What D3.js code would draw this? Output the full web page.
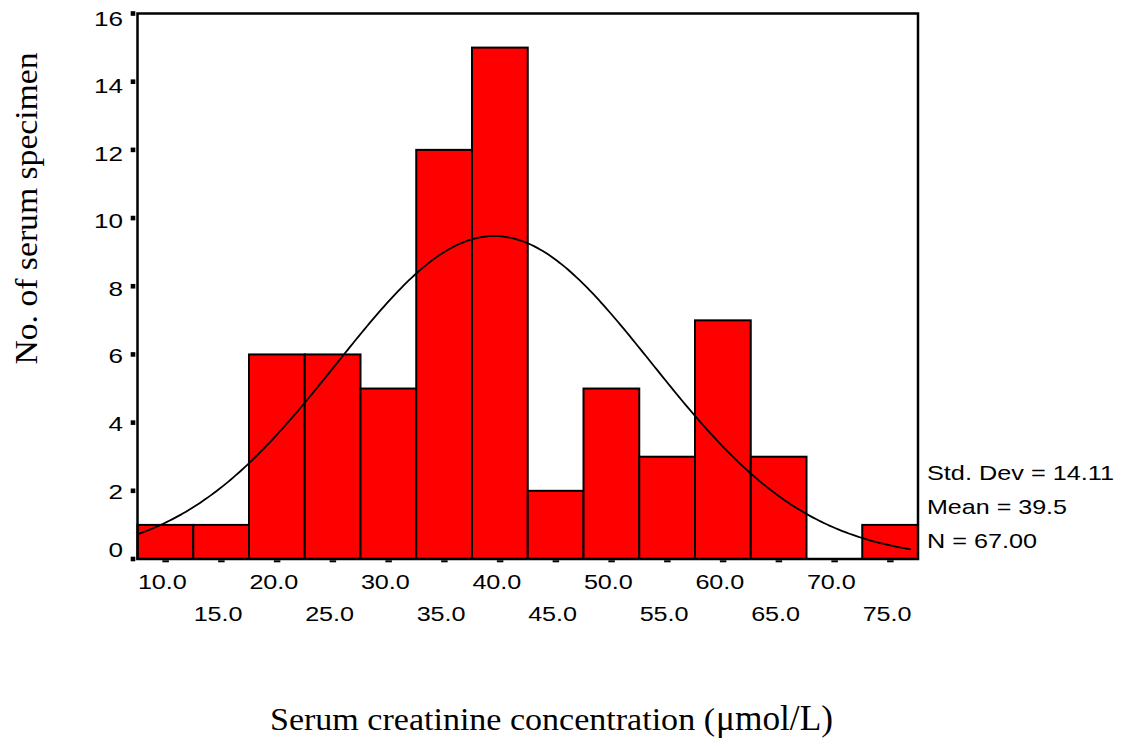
<!DOCTYPE html>
<html><head><meta charset="utf-8">
<script src="https://cdn.jsdelivr.net/npm/d3@7"></script>
<style>html,body{margin:0;padding:0;background:#fff;}svg{display:block;}</style>
</head><body>
<script>
// ---- data ----
const binCenters = [10, 15, 20, 25, 30, 35, 40, 45, 50, 55, 60, 65, 70, 75];
const counts     = [1, 1, 6, 6, 5, 12, 15, 2, 5, 3, 7, 3, 0, 1];
const xTickLabels = ["10.0","15.0","20.0","25.0","30.0","35.0","40.0","45.0","50.0","55.0","60.0","65.0","70.0","75.0"];
const yTicks = [0, 2, 4, 6, 8, 10, 12, 14, 16];
const statsLabels = ["Std. Dev = 14.11", "Mean = 39.5", "N = 67.00"];
const stdDev = 14.11, mean = 39.5, nObs = 67, binWidth = 5;
const curveRange = [7.6, 77.0];

const W = 1122, H = 746;
const svg = d3.select("body").append("svg").attr("width", W).attr("height", H);

const x = d3.scaleLinear().domain([7.5, 77.5]).range([137.5, 918]);
const y = d3.scaleLinear().domain([0, 16]).range([559, 13.5]);

// bars
svg.append("g").selectAll("rect")
  .data(binCenters.map((c, i) => ({c, v: counts[i]})).filter(d => d.v > 0))
  .join("rect")
  .attr("x", d => x(d.c - binWidth / 2))
  .attr("width", d => x(d.c + binWidth / 2) - x(d.c - binWidth / 2))
  .attr("y", d => y(d.v))
  .attr("height", d => y(0) - y(d.v))
  .attr("fill", "#ff0000")
  .attr("stroke", "#000")
  .attr("stroke-width", 2);

// normal curve
const pdf = v => nObs * binWidth / (stdDev * Math.sqrt(2 * Math.PI)) * Math.exp(-0.5 * Math.pow((v - mean) / stdDev, 2));
const pts = d3.range(curveRange[0], curveRange[1] + 0.001, 0.25).map(v => [v, pdf(v)]);
svg.append("path")
  .attr("d", d3.line().x(d => x(d[0])).y(d => y(d[1]))(pts))
  .attr("fill", "none").attr("stroke", "#000").attr("stroke-width", 1.8);

// frame
svg.append("rect")
  .attr("x", x(7.5)).attr("y", y(16))
  .attr("width", x(77.5) - x(7.5)).attr("height", y(0) - y(16))
  .attr("fill", "none").attr("stroke", "#000").attr("stroke-width", 2.5);

// y ticks (squares) and labels
const gy = svg.append("g");
gy.selectAll("rect").data(yTicks).join("rect")
  .attr("x", 130.7).attr("y", d => y(d) - 2.3).attr("width", 4.6).attr("height", 4.6).attr("fill", "#000");
gy.selectAll("text").data(yTicks).join("text")
  .attr("x", 123)
  .attr("y", d => Math.min(y(d) + 0.3 * d, y(0) - 9) + 7.2)
  .attr("text-anchor", "end")
  .attr("font-family", "Liberation Sans, Arial, sans-serif")
  .attr("font-size", 20)
  .attr("textLength", d => String(d).length * 14.5)
  .attr("lengthAdjust", "spacingAndGlyphs")
  .text(d => d);

// x ticks (dashes) and labels
const gx = svg.append("g");
gx.selectAll("rect").data(binCenters).join("rect")
  .attr("x", d => x(d) - 3).attr("y", 560.3).attr("width", 6.5).attr("height", 2).attr("fill", "#000");
gx.selectAll("text").data(binCenters).join("text")
  .attr("x", d => x(d) - 3)
  .attr("y", (d, i) => i % 2 === 0 ? 589.3 : 620.7)
  .attr("text-anchor", "middle")
  .attr("font-family", "Liberation Sans, Arial, sans-serif")
  .attr("font-size", 20)
  .attr("textLength", 49)
  .attr("lengthAdjust", "spacingAndGlyphs")
  .text((d, i) => xTickLabels[i]);

// stats
const statLens = [187, 140, 110];
svg.append("g").selectAll("text").data(statsLabels).join("text")
  .attr("x", 927)
  .attr("y", (d, i) => 480 + i * 34.2)
  .attr("font-family", "Liberation Sans, Arial, sans-serif")
  .attr("font-size", 21)
  .attr("textLength", (d, i) => statLens[i])
  .attr("lengthAdjust", "spacingAndGlyphs")
  .text(d => d);

// axis titles
svg.append("text")
  .attr("transform", "translate(36.7,208.5) rotate(-90)")
  .attr("text-anchor", "middle")
  .attr("font-family", "Liberation Serif, Times New Roman, serif")
  .attr("font-size", 32)
  .attr("textLength", 312)
  .attr("lengthAdjust", "spacingAndGlyphs")
  .text("No. of serum specimen");

svg.append("text")
  .attr("x", 270).attr("y", 730)
  .attr("font-family", "Liberation Serif, Times New Roman, serif")
  .attr("font-size", 31)
  .attr("textLength", 445)
  .attr("lengthAdjust", "spacingAndGlyphs")
  .text("Serum creatinine concentration (");
svg.append("text")
  .attr("x", 716).attr("y", 730)
  .attr("font-family", "Liberation Serif, Times New Roman, serif")
  .attr("font-size", 36)
  .attr("textLength", 117)
  .attr("lengthAdjust", "spacingAndGlyphs")
  .text("μmol/L)");
</script>
</body></html>
